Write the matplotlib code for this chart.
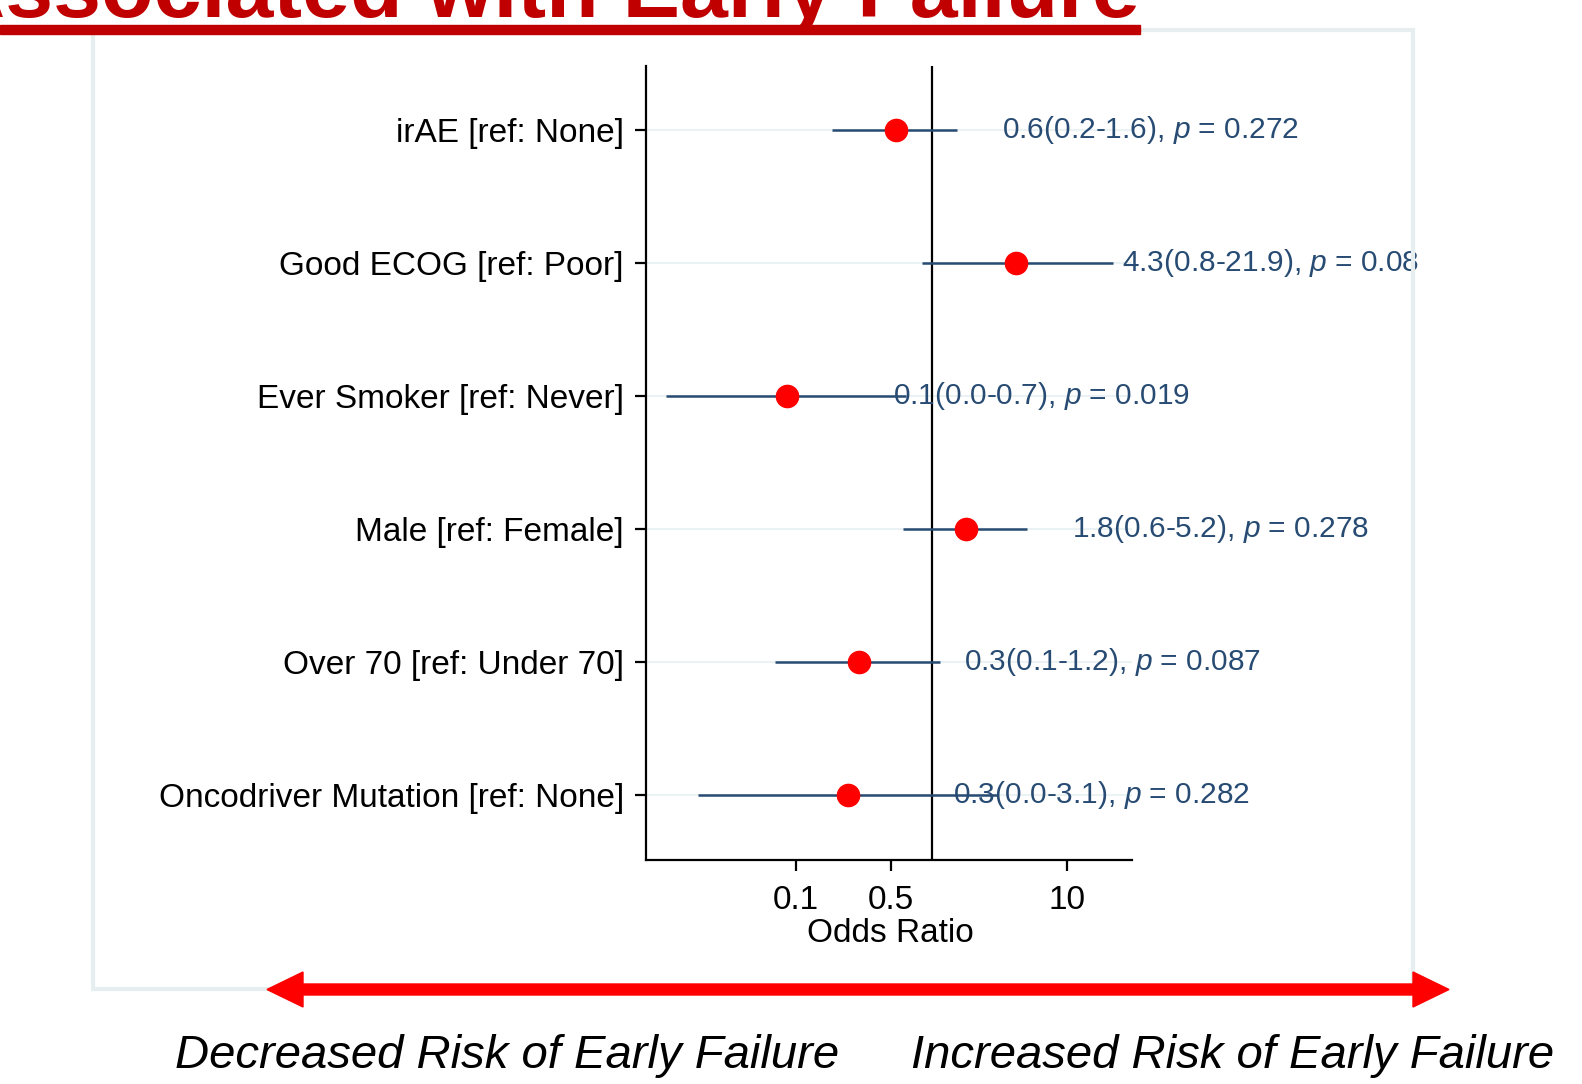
import numpy as np
import matplotlib
matplotlib.use("Agg")
import matplotlib.pyplot as plt
from matplotlib.patches import Rectangle, Polygon

plt.rcParams['font.family'] = ['Liberation Sans', 'DejaVu Sans']
plt.rcParams['mathtext.fontset'] = 'custom'
plt.rcParams['mathtext.rm'] = 'Liberation Sans'
plt.rcParams['mathtext.it'] = 'Liberation Sans:italic'

# data (top row first)
labels = ["irAE [ref: None]", "Good ECOG [ref: Poor]", "Ever Smoker [ref: Never]",
          "Male [ref: Female]", "Over 70 [ref: Under 70]", "Oncodriver Mutation [ref: None]"]
odds = [0.55, 4.2, 0.086, 1.8, 0.29, 0.24]
ci_lo = [0.185, 0.85, 0.011, 0.62, 0.07, 0.019]
ci_hi = [1.55, 21.9, 0.65, 5.1, 1.16, 3.1]
ci_text = ["0.6(0.2-1.6)", "4.3(0.8-21.9)", "0.1(0.0-0.7)",
           "1.8(0.6-5.2)", "0.3(0.1-1.2)", "0.3(0.0-3.1)"]
p_vals = ["0.272", "0.08", "0.019", "0.278", "0.087", "0.282"]
xticks = [0.1, 0.5, 10]
xtick_labels = ["0.1", "0.5", "10"]

W, H = 1582, 1084
navy = '#274b72'

def fx(px):
    return px / W

def fy(py):
    return 1 - py / H

fig = plt.figure(figsize=(W / 100, H / 100), dpi=100)

# faint graph-region frame
fig.patches.append(Rectangle((fx(93), fy(989)), fx(1413) - fx(93), fy(30) - fy(989),
                             transform=fig.transFigure, fill=False,
                             edgecolor='#e6eef0', lw=3, zorder=0))

ax = fig.add_axes([fx(646), fy(860), fx(1132) - fx(646), fy(66) - fy(860)])
rows = np.arange(len(labels), 0, -1)

for y in rows:
    ax.axhline(y, color='#eaf2f3', lw=1.5, zorder=0)
ax.axvline(1, color='black', lw=1.6, zorder=1)
ax.hlines(rows, ci_lo, ci_hi, color=navy, lw=1.8, zorder=2)
ax.plot(odds, rows, 'o', color='#ff0000', ms=16, mec='#ff0000', zorder=3)

for o, y, t, p in zip(odds, rows, ci_text, p_vals):
    ax.annotate(t + ", $p$ = " + p, xy=(o, y), xytext=(76, 0),
                textcoords='offset points', ha='left', va='center',
                fontsize=21.5, color=navy, annotation_clip=False)

ax.set_xscale('log')
ax.set_xlim(0.0078, 30.2)
ax.set_ylim(0.51, 6.48)
ax.set_xticks(xticks)
ax.set_xticklabels(xtick_labels)
ax.minorticks_off()
ax.set_yticks(rows)
ax.set_yticklabels(labels)
ax.tick_params(axis='both', labelsize=24, width=1.6, length=8, color='black')
ax.tick_params(axis='y', pad=8)
ax.tick_params(axis='x', pad=10)
for s in ['top', 'right']:
    ax.spines[s].set_visible(False)
for s in ['left', 'bottom']:
    ax.spines[s].set_linewidth(1.6)
ax.set_xlabel("Odds Ratio", fontsize=24)
ax.xaxis.label.set_va('center')
ax.xaxis.set_label_coords(0.502, -0.093)

# title (cropped at top)
fig.text(fx(1140), fy(17), "Associated with Early Failure", ha='right', va='baseline',
         fontsize=62, fontweight='bold', color='#c00000')
fig.patches.append(Rectangle((0, fy(34)), fx(1140), fy(25) - fy(34),
                             transform=fig.transFigure, color='#c00000', zorder=5))

# double-headed red arrow
xl, xr, cy = 267, 1449, 989.5
hl, hh, sh = 36, 17.5, 5.5
pts = [(xl, cy), (xl + hl, cy - hh), (xl + hl, cy - sh), (xr - hl, cy - sh),
       (xr - hl, cy - hh), (xr, cy), (xr - hl, cy + hh), (xr - hl, cy + sh),
       (xl + hl, cy + sh), (xl + hl, cy + hh)]
fig.patches.append(Polygon([(fx(a), fy(b)) for a, b in pts], closed=True,
                           transform=fig.transFigure, color='#ff0000', zorder=5))

fig.text(fx(175), fy(1068), "Decreased Risk of Early Failure", ha='left', va='baseline',
         fontsize=34, style='italic', color='black')
fig.text(fx(911), fy(1068), "Increased Risk of Early Failure", ha='left', va='baseline',
         fontsize=34, style='italic', color='black')

fig.savefig('out.png', dpi=100)
